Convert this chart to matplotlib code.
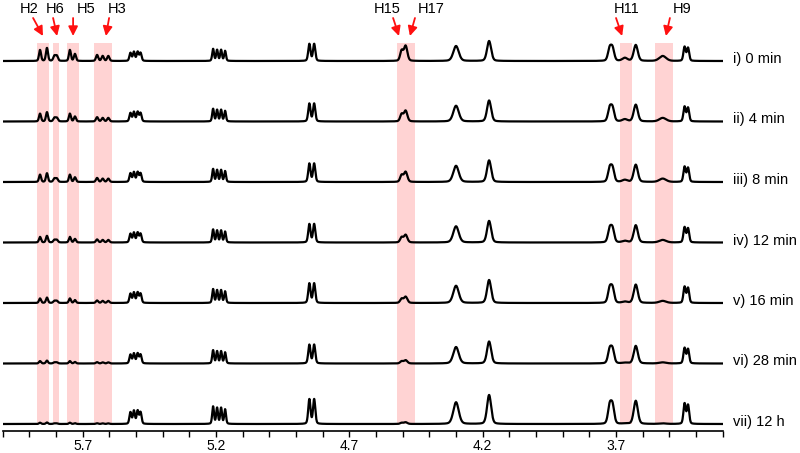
import matplotlib.pyplot as plt
import numpy as np

plt.rcParams['font.family'] = ['Liberation Sans', 'DejaVu Sans']

# spectra, top to bottom
row_labels = ["i) 0 min", "ii) 4 min", "iii) 8 min", "iv) 12 min",
              "v) 16 min", "vi) 28 min", "vii) 12 h"]
row_scale = [1.0, 1.05, 1.08, 1.08, 1.15, 1.1, 1.45]   # overall intensity
remaining = [1.0, 0.68, 0.62, 0.47, 0.36, 0.2, 0.08]   # fraction of reacting compound
row_gap = 60.5

# signals that stay through the series (ppm, height, fwhm)
fixed_ppm = [5.521, 5.508, 5.494, 5.483, 5.211, 5.196, 5.181, 5.166,
             4.850, 4.832, 4.300, 4.176, 3.724, 3.713, 3.626, 3.443, 3.430]
fixed_h = [8, 9, 9, 8, 12, 11, 11, 10,
           17, 17, 15, 20, 12, 12, 16, 14, 13]
fixed_w = [0.009, 0.009, 0.009, 0.009, 0.008, 0.008, 0.008, 0.008,
           0.010, 0.010, 0.024, 0.018, 0.015, 0.015, 0.018, 0.010, 0.010]

# signals of the reacting compound: H2, H6, H5, H3, H15/H17, H11, H9
react_ppm = [5.860, 5.834, 5.806, 5.797, 5.748, 5.729,
             5.646, 5.625, 5.604, 4.504, 4.489, 3.667, 3.525]
react_h = [11, 13, 5, 5, 11, 7, 6, 5, 5, 10, 15, 3, 5]
react_w = [0.009, 0.009, 0.010, 0.010, 0.009, 0.009,
           0.010, 0.010, 0.010, 0.013, 0.015, 0.022, 0.030]

# shaded regions (ppm)
band_lo = [5.826, 5.789, 5.714, 5.590, 4.454, 3.641, 3.488]
band_hi = [5.871, 5.811, 5.759, 5.658, 4.520, 3.686, 3.555]

# assignment labels and arrows
lab_names = ["H2", "H6", "H5", "H3", "H15", "H17", "H11", "H9"]
lab_x = [5.901, 5.804, 5.689, 5.571, 4.559, 4.394, 3.659, 3.453]
arrow_x0 = [5.886, 5.811, 5.736, 5.601, 4.536, 4.454, 3.700, 3.498]
arrow_x1 = [5.849, 5.796, 5.736, 5.613, 4.514, 4.473, 3.677, 3.513]


def peak(x, c, h, w):
    # pseudo-voigt line
    g = np.exp(-4 * np.log(2) * (x - c) ** 2 / w ** 2)
    l = 1 / (1 + 4 * (x - c) ** 2 / w ** 2)
    return h * (0.75 * g + 0.25 * l)


ppm = np.linspace(6.0, 3.3, 4000)

fig = plt.figure(figsize=(8, 4.53), dpi=100)
ax = fig.add_axes([2.7 / 800, 22 / 453, 720 / 800, 431 / 453])

top = 424
for lo, hi in zip(band_lo, band_hi):
    ax.fill_betweenx([0, top - 43], lo, hi, color='#ffd3d3', lw=0, zorder=1)

n = len(row_labels)
for k in range(n):
    base = (n - 1 - k) * row_gap
    y = np.zeros_like(ppm)
    for c, h, w in zip(fixed_ppm, fixed_h, fixed_w):
        y += peak(ppm, c, h * row_scale[k], w)
    for c, h, w in zip(react_ppm, react_h, react_w):
        y += peak(ppm, c, h * row_scale[k] * remaining[k], w)
    ax.plot(ppm, base + y, color='black', lw=1.6, zorder=3)
    ax.text(3.2615, base + 2, row_labels[k], ha='left', va='center',
            fontsize=10.5, clip_on=False)

for name, x, x0, x1 in zip(lab_names, lab_x, arrow_x0, arrow_x1):
    ax.text(x, top - 9, name, ha='center', va='center', fontsize=10.5)
    ax.annotate('', xy=(x1, top - 36), xytext=(x0, top - 18),
                arrowprops=dict(arrowstyle='-|>', color='#ff1010', lw=1.3,
                                mutation_scale=14, shrinkA=0, shrinkB=0))

ax.set_xlim(6.0, 3.3)
ax.set_ylim(-7, top)
ax.set_xticks([5.7, 5.2, 4.7, 4.2, 3.7])
ax.set_xticklabels(["5.7", "5.2", "4.7", "4.2", "3.7"])
ax.set_xticks(np.arange(33, 61) / 10, minor=True)
ax.tick_params(axis='x', which='both', direction='out', length=4.5, width=1,
               labelsize=10, pad=1.5)
ax.set_yticks([])
for s in ['left', 'top', 'right']:
    ax.spines[s].set_visible(False)
ax.spines['bottom'].set_linewidth(1.2)
ax.patch.set_visible(False)

fig.savefig('out.png', dpi=100)
